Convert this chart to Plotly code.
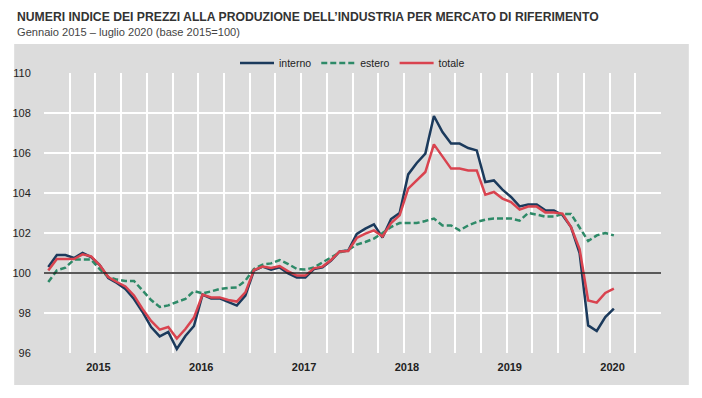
import plotly.graph_objects as go

# Monthly data, January 2015 - July 2020 (base 2015=100)
years = ["2015", "2016", "2017", "2018", "2019", "2020"]
interno = [100.3, 100.9, 100.9, 100.75, 101.0, 100.8, 100.4, 99.75, 99.5, 99.2, 98.7, 98.05,
           97.3, 96.83, 97.05, 96.2, 96.85, 97.35, 98.92, 98.73, 98.73, 98.53, 98.37, 98.87,
           100.12, 100.32, 100.17, 100.28, 99.98, 99.78, 99.78, 100.2, 100.28, 100.62, 101.08, 101.12,
           101.95, 102.22, 102.43, 101.77, 102.7, 103.0, 104.93, 105.5, 105.97, 107.85, 107.05, 106.47,
           106.47, 106.25, 106.13, 104.55, 104.63, 104.17, 103.8, 103.33, 103.42, 103.42, 103.13, 103.13,
           102.9, 102.3, 101.0, 97.38, 97.1, 97.8, 98.22]
estero = [99.55, 100.13, 100.27, 100.67, 100.67, 100.67, 100.2, 99.8, 99.67, 99.6, 99.6, 99.13,
          98.65, 98.3, 98.38, 98.55, 98.7, 99.1, 98.98, 99.08, 99.2, 99.25, 99.28, 99.62,
          100.2, 100.42, 100.48, 100.65, 100.45, 100.2, 100.17, 100.28, 100.53, 100.78, 101.03, 101.15,
          101.42, 101.55, 101.72, 102.0, 102.3, 102.5, 102.5, 102.5, 102.6, 102.72, 102.38, 102.38,
          102.13, 102.38, 102.55, 102.67, 102.72, 102.72, 102.72, 102.62, 103.0, 102.92, 102.82, 102.82,
          102.95, 102.95, 102.3, 101.6, 101.88, 102.0, 101.88]
totale = [100.13, 100.7, 100.7, 100.7, 100.93, 100.83, 100.4, 99.8, 99.55, 99.33, 98.88, 98.2,
          97.6, 97.17, 97.3, 96.72, 97.2, 97.77, 98.92, 98.78, 98.78, 98.65, 98.57, 99.03,
          100.15, 100.32, 100.25, 100.35, 100.08, 99.87, 99.87, 100.23, 100.32, 100.65, 101.08, 101.1,
          101.75, 101.97, 102.13, 101.83, 102.5, 102.88, 104.22, 104.63, 105.05, 106.43, 105.8, 105.22,
          105.22, 105.13, 105.13, 103.92, 104.05, 103.72, 103.55, 103.17, 103.32, 103.32, 103.03, 103.03,
          102.97, 102.3, 101.2, 98.63, 98.52, 99.0, 99.22]

months = list(range(len(interno)))
n_months = 12 * len(years)
year_centers = [12 * k + 5.5 for k in range(len(years))]

FONT = "Liberation Sans, Arial, sans-serif"
NAVY = "#1B3A5C"
GREEN = "#2E8A68"
RED = "#D9434F"
GRAY = "#DCDCDC"

W, H = 702, 398
L, R, T, B = 40, 41, 73, 45
pw, ph = W - L - R, H - T - B

def px_x(x):
    return (x - L) / pw

def px_y(y):
    return (H - B - y) / ph

fig = go.Figure()
fig.add_trace(go.Scatter(x=months, y=interno, name="interno", mode="lines",
                         line=dict(color=NAVY, width=2.5)))
fig.add_trace(go.Scatter(x=months, y=estero, name="estero", mode="lines",
                         line=dict(color=GREEN, width=2.5, dash="6px,3px")))
fig.add_trace(go.Scatter(x=months, y=totale, name="totale", mode="lines",
                         line=dict(color=RED, width=2.5)))

# grey panel behind the chart
fig.add_shape(type="rect", xref="paper", yref="paper",
              x0=px_x(10), x1=px_x(689), y0=px_y(385), y1=px_y(44),
              fillcolor=GRAY, line=dict(width=0), layer="below")
# reference line at 100
fig.add_shape(type="line", xref="paper", yref="y", x0=0, x1=1, y0=100, y1=100,
              line=dict(color="#222222", width=1.5), layer="above")

fig.add_annotation(text="<b>NUMERI INDICE DEI PREZZI ALLA PRODUZIONE DELL’INDUSTRIA PER MERCATO DI RIFERIMENTO</b>",
                   xref="paper", yref="paper", x=px_x(11), y=px_y(17), xanchor="left", yanchor="middle",
                   showarrow=False, font=dict(family=FONT, size=12.2, color="#333333"))
fig.add_annotation(text="Gennaio 2015 – luglio 2020 (base 2015=100)",
                   xref="paper", yref="paper", x=px_x(11), y=px_y(32), xanchor="left", yanchor="middle",
                   showarrow=False, font=dict(family=FONT, size=11.1, color="#444444"))

fig.update_layout(
    width=W, height=H,
    margin=dict(l=L, r=R, t=T, b=B, pad=0),
    paper_bgcolor="white", plot_bgcolor=GRAY,
    font=dict(family=FONT, size=11, color="#222222"),
    showlegend=True,
    legend=dict(orientation="h", x=0.5, xanchor="center", y=px_y(63), yanchor="middle",
                bgcolor="rgba(0,0,0,0)", font=dict(family=FONT, size=10.5, color="#222222"),
                itemwidth=34, traceorder="normal"),
    xaxis=dict(range=[-0.5, n_months - 0.5], tickvals=year_centers, ticktext=years,
               showgrid=True, gridcolor="white", gridwidth=1.5,
               ticks="outside", ticklen=4, tickcolor="rgba(0,0,0,0)", ticklabelshift=3,
               tickfont=dict(family=FONT, size=11, color="#222222", weight="bold"),
               minor=dict(tick0=-0.5, dtick=3, showgrid=True, gridcolor="white", gridwidth=1.5),
               showline=False, zeroline=False, fixedrange=True),
    yaxis=dict(range=[96, 110], dtick=2, showgrid=True, gridcolor="white", gridwidth=1.5,
               ticks="outside", ticklen=10, tickcolor="rgba(0,0,0,0)",
               tickfont=dict(family=FONT, size=11, color="#222222"),
               showline=False, zeroline=False, fixedrange=True),
)

fig.write_html("out.html", config={"displayModeBar": False},
               post_script="document.body.style.margin='0';document.body.style.padding='0';")
